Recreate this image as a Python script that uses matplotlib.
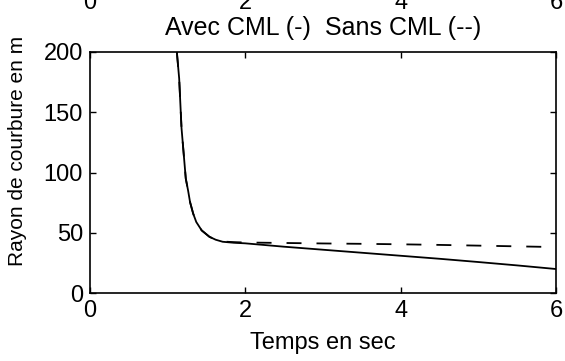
import matplotlib
matplotlib.use("Agg")
import matplotlib.pyplot as plt

plt.rcParams["font.family"] = ["Liberation Sans", "DejaVu Sans"]
plt.rcParams["font.size"] = 17

# valeurs
t_avec = [1.12, 1.15, 1.18, 1.235, 1.265, 1.29, 1.33, 1.37, 1.44, 1.54, 1.62, 1.71, 1.85, 2.0, 2.5, 3.0, 3.5, 4.0, 4.5, 5.0, 5.5, 6.0]
r_avec = [200, 178, 137, 95, 85, 75.5, 66, 59, 52, 46.7, 44.3, 42.6, 41.8, 41.3, 38.5, 36, 33.5, 31, 28.5, 25.8, 23, 20]

t_sans = [1.12, 1.15, 1.18, 1.235, 1.265, 1.29, 1.33, 1.37, 1.44, 1.54, 1.62, 1.71, 1.85, 2.0, 2.5, 3.0, 3.5, 4.0, 4.5, 5.0, 5.5, 6.0]
r_sans = [200, 178, 137, 95, 85, 75.5, 66, 59, 52, 46.7, 44.3, 42.8, 42.3, 42.0, 41.6, 41.2, 40.9, 40.5, 40.0, 39.4, 38.8, 38.2]

xticks = [0, 2, 4, 6]
yticks = [0, 50, 100, 150, 200]

fig = plt.figure(figsize=(5.65, 3.61), dpi=100)
ax = fig.add_axes([0.159, 0.188, 0.825, 0.668])

ax.plot(t_avec, r_avec, color="black", lw=1.3)
ax.plot(t_sans, r_sans, color="black", lw=1.3, dashes=[8.3, 8.3])

ax.set_xlim(0, 6)
ax.set_ylim(0, 200)
ax.set_xticks(xticks)
ax.set_yticks(yticks)
ax.tick_params(direction="in", top=True, right=True, length=4, width=1, pad=5)
for s in ax.spines.values():
    s.set_linewidth(1.2)

ax.set_xlabel("Temps en sec", labelpad=7)
ax.set_ylabel("Rayon de courbure en m", fontsize=15)
ax.yaxis.set_label_coords(-0.135, 0.59)
ax.set_title("Avec CML (-)  Sans CML (--)", fontsize=18, pad=12)

# morceau du sous-graphe du dessus (labels coupés en haut)
ax_top = fig.add_axes([0.159, 1.037, 0.825, 0.2])
ax_top.set_xlim(0, 6)
ax_top.set_xticks(xticks)
ax_top.set_yticks([])
ax_top.tick_params(direction="in", length=0, pad=4)
for s in ax_top.spines.values():
    s.set_visible(False)
ax_top.patch.set_visible(False)

fig.savefig("out.png", dpi=100)
